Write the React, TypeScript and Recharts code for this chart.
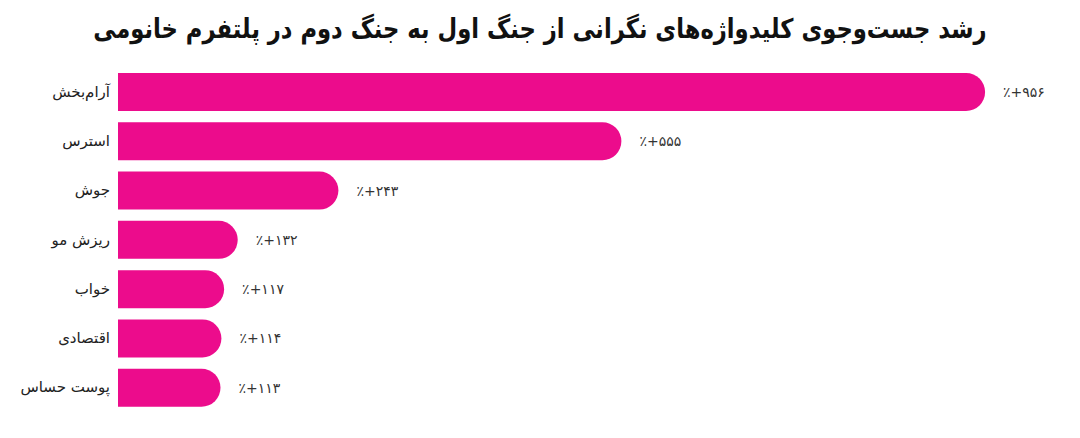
import { Bar, BarChart, LabelList, XAxis, YAxis } from 'recharts'

const title = 'رشد جست‌وجوی کلیدواژه‌های نگرانی از جنگ اول به جنگ دوم در پلتفرم خانومی'
const keywords = ['آرام‌بخش', 'استرس', 'جوش', 'ریزش مو', 'خواب', 'اقتصادی', 'پوست حساس']
const growth = [956, 555, 243, 132, 117, 114, 113]

const persianDigits = ['۰', '۱', '۲', '۳', '۴', '۵', '۶', '۷', '۸', '۹']
const toPersian = (n: number) =>
  String(n).replace(/\d/g, (d) => persianDigits[Number(d)])

const chartData = keywords.map((name, i) => ({ name, value: growth[i] }))

const FONT = '"DejaVu Sans", sans-serif'
const PINK = '#EC0C8C'

function KeywordTick(props: any) {
  const { x, y, payload } = props
  return (
    <text x={x} y={y} dy={5} textAnchor="end" fill="#222" fontSize={15} fontFamily={FONT}>
      {payload.value}
    </text>
  )
}

export default function App() {
  return (
    <div style={{ position: 'absolute', left: 0, top: 0, width: 1080, height: 438, background: '#fff' }}>
      <div
        style={{
          position: 'absolute',
          top: 13,
          left: 0,
          width: 1080,
          textAlign: 'center',
          direction: 'rtl',
          fontFamily: FONT,
          fontWeight: 700,
          fontSize: 27,
          color: '#111',
          transform: 'scaleX(0.84)',
          transformOrigin: '540px 50%',
          whiteSpace: 'nowrap',
        }}
      >
        {title}
      </div>
      <BarChart
        width={1080}
        height={438}
        data={chartData}
        layout="vertical"
        margin={{ top: 67, right: 55, left: 0, bottom: 26 }}
      >
        <XAxis type="number" domain={[0, 1000]} hide />
        <YAxis
          type="category"
          dataKey="name"
          width={118}
          tickSize={0}
          tickMargin={8}
          axisLine={false}
          tickLine={false}
          tick={<KeywordTick />}
        />
        <Bar dataKey="value" fill={PINK} barSize={38} radius={[0, 19, 19, 0]} isAnimationActive={false}>
          <LabelList
            dataKey="value"
            position="right"
            offset={18}
            fill="#333"
            fontSize={14}
            fontFamily={FONT}
            formatter={(v: any) => '٪+' + toPersian(Number(v))}
          />
        </Bar>
      </BarChart>
    </div>
  )
}
